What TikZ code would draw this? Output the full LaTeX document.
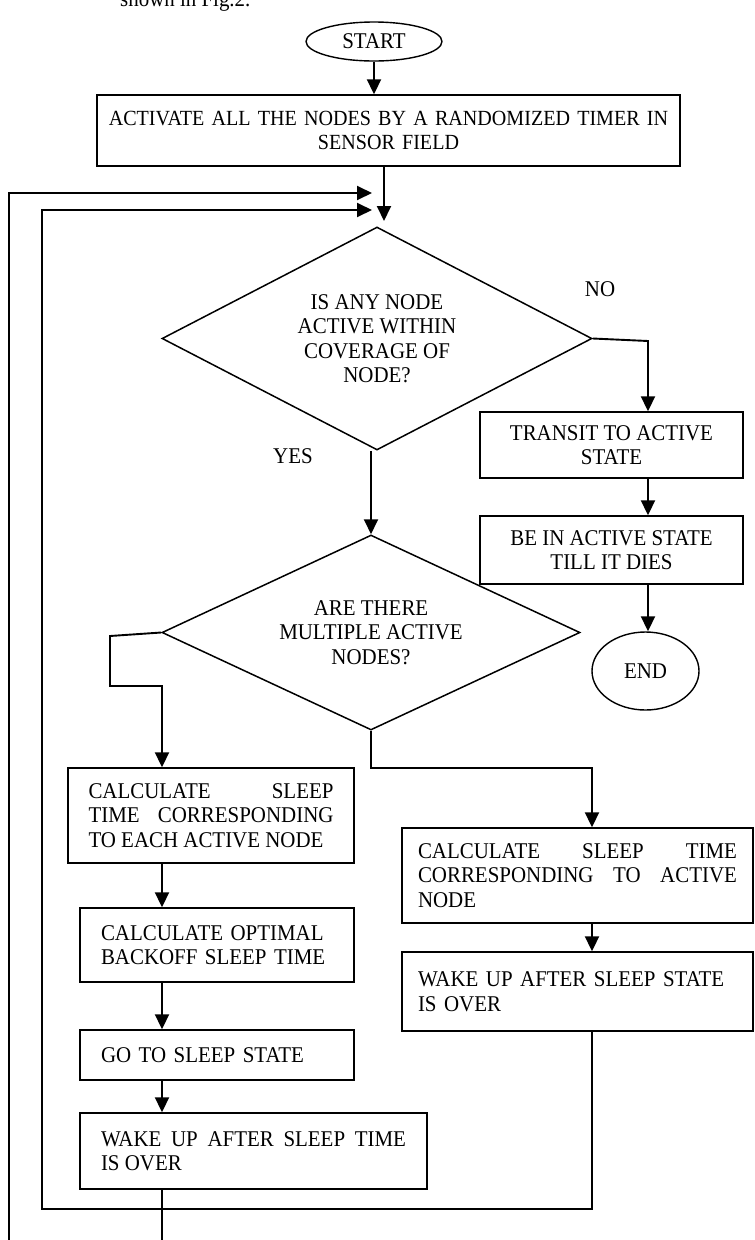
\documentclass[tikz,border=0pt]{standalone}
\usepackage{fontspec}
\setmainfont{Liberation Serif}[FakeStretch=0.93]
\usetikzlibrary{shapes.geometric,arrows.meta,calc}
\begin{document}
\begin{tikzpicture}[x=1pt,y=-1pt,
  every node/.style={font=\fontsize{22.5}{24.5}\selectfont},
  box/.style={draw, line width=1.4pt, rectangle, inner sep=0pt},
  oval/.style={draw, line width=1.4pt, ellipse, inner sep=0pt},
  dia/.style={draw, line width=1.5pt, diamond, aspect=2, inner sep=0pt, align=center},
  lbl/.style={inner sep=0pt},
  arr/.style={line width=1.9pt, -{Triangle[length=15pt,width=14pt]}},
  ln/.style={line width=1.7pt}]
\useasboundingbox (0,0) rectangle (755,1240);
\clip (0,0) rectangle (755,1240);

\node[lbl, anchor=base west] (fig) at (120,6) {shown in Fig.2.};

\node[oval, minimum width=136pt, minimum height=39pt] (start) at (374,41.5) {START};
\node[box, minimum width=583pt, minimum height=71pt, text width=583pt, align=center,
  font=\fontsize{21.6}{23.5}\selectfont] (a) at (388.5,130.5)
  {ACTIVATE ALL THE NODES BY A RANDOMIZED TIMER IN\\SENSOR FIELD};
\node[dia, minimum width=430pt, minimum height=223pt] (d1) at (377,338.5)
  {IS ANY NODE\\ACTIVE WITHIN\\COVERAGE OF\\NODE?};
\node[lbl] (no) at (600,289) {NO};
\node[lbl] (yes) at (293,456) {YES};
\node[box, minimum width=263pt, minimum height=66pt, align=center] (b) at (611.5,445) {TRANSIT TO ACTIVE\\STATE};
\node[box, minimum width=263pt, minimum height=68pt, align=center] (c) at (611.5,550) {BE IN ACTIVE STATE\\TILL IT DIES};
\node[oval, minimum width=107pt, minimum height=78pt] (endn) at (645.5,671) {END};
\node[dia, minimum width=418pt, minimum height=195pt] (d2) at (371,632.5)
  {ARE THERE\\MULTIPLE ACTIVE\\NODES?};
\node[box, minimum width=286pt, minimum height=95pt, text width=245pt, inner xsep=20.5pt, align=justify] (d) at (211,815.5)
  {CALCULATE SLEEP\linebreak TIME CORRESPONDING\linebreak TO EACH ACTIVE NODE};
\node[box, minimum width=351pt, minimum height=95pt, text width=319pt, inner xsep=16pt, align=justify] (e) at (577.5,875.5)
  {CALCULATE SLEEP TIME\linebreak CORRESPONDING TO ACTIVE\linebreak NODE};
\node[box, minimum width=351pt, minimum height=79pt, text width=319pt, inner xsep=16pt, align=left] (f) at (577.5,991.5)
  {WAKE UP AFTER SLEEP STATE\\IS OVER};
\node[box, minimum width=274pt, minimum height=74pt, text width=232pt, inner xsep=21pt, align=left] (g) at (217,945)
  {CALCULATE OPTIMAL\\BACKOFF SLEEP TIME};
\node[box, minimum width=274pt, minimum height=50pt, text width=232pt, inner xsep=21pt, align=left] (h) at (217,1055)
  {GO TO SLEEP STATE};
\node[box, minimum width=347pt, minimum height=76pt, text width=305pt, inner xsep=21pt, align=justify] (i) at (253.5,1151)
  {WAKE UP AFTER SLEEP TIME\linebreak IS OVER};

% helper coordinates
\coordinate (d1in) at (384,221);
\coordinate (l1) at (372,193);
\coordinate (l2) at (372,210);
\coordinate (ob) at (9,1250);
\coordinate (xe) at (592,1209);
\coordinate (xl) at (42,1209);
\coordinate (ib) at (162,1250);
\coordinate (xr) at (648,341);
\coordinate (yl1) at (110,636);
\coordinate (yl2) at (162,686);
\coordinate (nb) at (592,768);

% connectors
\draw[arr] (start.south) -- (a.north -| start.south);
\draw[arr] (a.south -| d1in) -- (d1in);
\draw[arr] (ob) |- (l1);
\draw[arr] (f.south -| xe) -- (xe) -- (xl) |- (l2);
\draw[ln] (i.south -| ib) -- (ib);
\draw[arr] (d1.east) -- (xr) -- (b.north -| xr);
\draw[arr] (b.south -| xr) -- (c.north -| xr);
\draw[arr] (c.south -| xr) -- (endn.north -| xr);
\draw[arr] (d1.south -| d2.north) -- (d2.north);
\draw[arr] (d2.west) -- (yl1) |- (yl2) -- (d.north -| yl2);
\draw[arr] (d2.south) |- (nb) -- (e.north -| nb);
\draw[arr] (e.south -| nb) -- (f.north -| nb);
\draw[arr] (d.south -| yl2) -- (g.north -| yl2);
\draw[arr] (g.south -| yl2) -- (h.north -| yl2);
\draw[arr] (h.south -| yl2) -- (i.north -| yl2);
\end{tikzpicture}
\end{document}
